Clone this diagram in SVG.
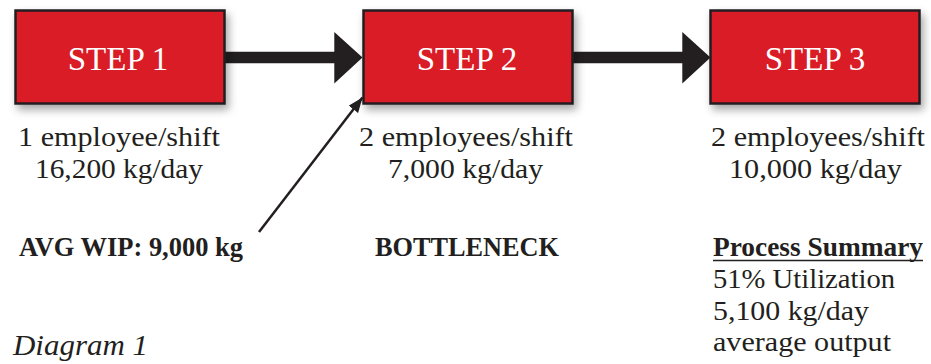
<svg xmlns="http://www.w3.org/2000/svg" width="931" height="364" viewBox="0 0 931 364">
<style>
.box{fill:#d91f28;stroke:#231f20;stroke-width:2.5;filter:url(#sh)}
.lbl{font-family:"Liberation Serif","Times New Roman",serif;font-size:33px;fill:#ffffff;text-anchor:middle}
.t{font-family:"Liberation Serif","Times New Roman",serif;font-size:28px;fill:#231f20}
.b{font-family:"Liberation Serif","Times New Roman",serif;font-size:27px;font-weight:bold;fill:#231f20}
.i{font-family:"Liberation Serif","Times New Roman",serif;font-size:29px;font-style:italic;fill:#231f20}
.big{fill:#231f20}
.thin{stroke:#231f20;stroke-width:2.5;fill:none}
</style>
<defs>
<filter id="sh" x="-10%" y="-10%" width="130%" height="140%">
<feDropShadow dx="3" dy="5" stdDeviation="4" flood-color="#000" flood-opacity="0.35"/>
</filter>
<marker id="ah" markerUnits="userSpaceOnUse" markerWidth="16" markerHeight="12" refX="15" refY="6" orient="auto">
<path d="M0,0 L15,6 L0,12 Z" fill="#231f20"/>
</marker>
</defs>
<g id="connectors">
<polygon class="big" points="224,51.7 334.3,51.7 334.3,32 362.5,57.5 334.3,83.5 334.3,63.3 224,63.3"/>
<polygon class="big" points="572,51.7 682.3,51.7 682.3,32 710.5,57.5 682.3,83.5 682.3,63.3 572,63.3"/>
<line class="thin" x1="259" y1="232" x2="362.5" y2="97.5" marker-end="url(#ah)"/>
</g>
<g id="step1">
<rect class="box" x="15.5" y="10.5" width="209" height="93"/>
<text class="lbl" x="118" y="70">STEP 1</text>
</g>
<g id="step2">
<rect class="box" x="363.5" y="10.5" width="209" height="93"/>
<text class="lbl" x="467" y="70">STEP 2</text>
</g>
<g id="step3">
<rect class="box" x="710.5" y="10.5" width="209" height="93"/>
<text class="lbl" x="815" y="70">STEP 3</text>
</g>
<g id="step1-info">
<text class="t" x="18" y="146" textLength="202" lengthAdjust="spacingAndGlyphs">1 employee/shift</text>
<text class="t" x="35" y="178" textLength="168" lengthAdjust="spacingAndGlyphs">16,200 kg/day</text>
</g>
<g id="step2-info">
<text class="t" x="359" y="146" textLength="214" lengthAdjust="spacingAndGlyphs">2 employees/shift</text>
<text class="t" x="388" y="178" textLength="155" lengthAdjust="spacingAndGlyphs">7,000 kg/day</text>
</g>
<g id="step3-info">
<text class="t" x="711" y="146" textLength="214" lengthAdjust="spacingAndGlyphs">2 employees/shift</text>
<text class="t" x="729" y="178" textLength="173" lengthAdjust="spacingAndGlyphs">10,000 kg/day</text>
</g>
<g id="wip">
<text class="b" x="19" y="256" textLength="224" lengthAdjust="spacingAndGlyphs">AVG WIP: 9,000 kg</text>
</g>
<g id="bottleneck">
<text class="b" x="375" y="256" textLength="184" lengthAdjust="spacingAndGlyphs">BOTTLENECK</text>
</g>
<g id="summary">
<text class="b" x="713" y="256" textLength="210" lengthAdjust="spacingAndGlyphs">Process Summary</text>
<line x1="713" y1="260.5" x2="923" y2="260.5" stroke="#231f20" stroke-width="1.5"/>
<text class="t" x="713" y="288" textLength="182" lengthAdjust="spacingAndGlyphs">51% Utilization</text>
<text class="t" x="713" y="320" textLength="156" lengthAdjust="spacingAndGlyphs">5,100 kg/day</text>
<text class="t" x="713" y="351" textLength="178" lengthAdjust="spacingAndGlyphs">average output</text>
</g>
<g id="caption">
<text class="i" x="13" y="355" textLength="135" lengthAdjust="spacingAndGlyphs">Diagram 1</text>
</g>
</svg>
